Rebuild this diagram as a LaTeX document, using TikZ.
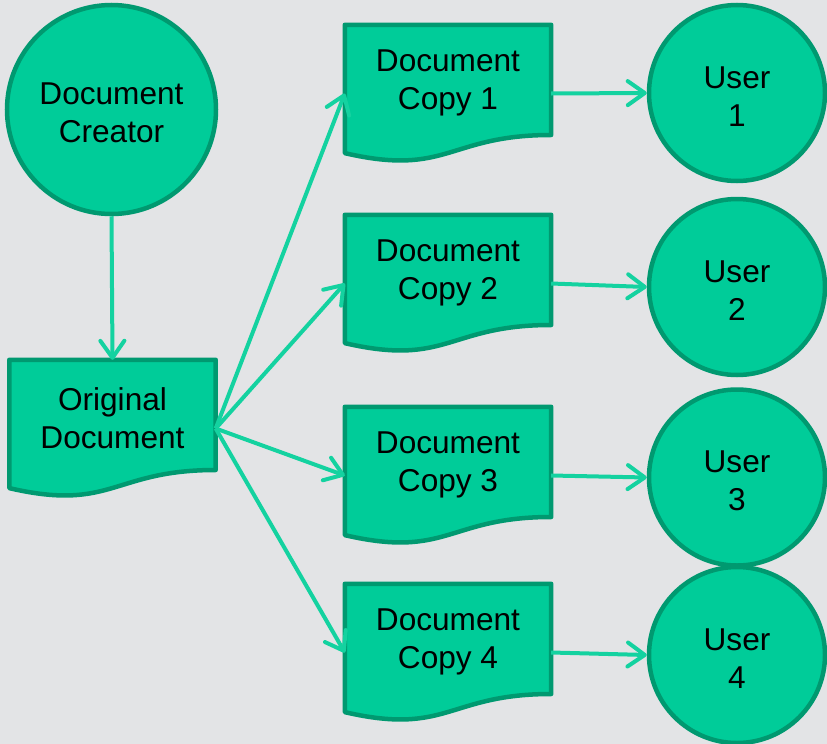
\documentclass[tikz,border=0pt]{standalone}
\usepackage{fontspec}
\setmainfont{Liberation Sans}
\usetikzlibrary{arrows.meta,calc}
\definecolor{bgc}{HTML}{E3E4E6}
\definecolor{fillc}{HTML}{00CC99}
\definecolor{edgec}{HTML}{009970}
\definecolor{arrc}{HTML}{14D2A0}
\tikzset{
  txt/.style={align=center,text=black,font=\fontsize{31.6}{38}\selectfont,inner sep=0pt},
  circnode/.style={circle,draw=edgec,fill=fillc,line width=4.5pt,inner sep=0pt,txt,
    text depth=0pt},
  docbb/.style={rectangle,draw=none,inner sep=0pt,minimum width=206pt,minimum height=137pt},
  docpath/.style={draw=edgec,fill=fillc,line width=4.5pt,line join=round},
  conn/.style={draw=arrc,line width=4pt,-{Straight Barb[length=17pt,width=24pt,round]}}
}
\newcommand\docnode[3]{%
  \node[docbb] (#1) at #2 {};
  \path[docpath] (#1.north west) -- (#1.north east) -- ($(#1.north east)!0.802!(#1.south east)$)
    .. controls ($(#1.north)!0.802!(#1.south)$) and ($(#1.north)!1.1075!(#1.south)$) ..
    ($(#1.north west)!0.934!(#1.south west)$) -- cycle;
  \node[txt,yshift=-3.5pt] (#1-t) at ($(#1.north)!0.401!(#1.south)$) {#3};
}
\newcommand\circnode[4]{%
  \node[circnode,minimum size=#3] (#1) at #2 {};
  \node[txt,yshift=-3.5pt] (#1-t) at (#1.center) {#4};
}
\begin{document}
\begin{tikzpicture}[x=1pt,y=-1pt]
\useasboundingbox (0,0) rectangle (827,744);
\fill[bgc] (0,0) rectangle (827,744);
\circnode{creator}{(111.5,109.5)}{209pt}{Document\\Creator}
\docnode{orig}{(112.5,428.5)}{Original\\Document}
\docnode{c1}{(448,93.5)}{Document\\Copy 1}
\docnode{c2}{(448,283.5)}{Document\\Copy 2}
\docnode{c3}{(448,475.5)}{Document\\Copy 3}
\docnode{c4}{(448,652.5)}{Document\\Copy 4}
\circnode{u1}{(737,93)}{176pt}{User\\1}
\circnode{u2}{(737,287)}{176pt}{User\\2}
\circnode{u3}{(737,477.5)}{176pt}{User\\3}
\circnode{u4}{(737,655)}{176pt}{User\\4}
\draw[conn] (creator.south) -- (orig.north);
\foreach \c in {c1,c2,c3,c4}{\draw[conn] (orig.east) -- (\c.west);}
\draw[conn] (c1.east) -- (u1.west);
\draw[conn] (c2.east) -- (u2.west);
\draw[conn] (c3.east) -- (u3.west);
\draw[conn] (c4.east) -- (u4.west);
\end{tikzpicture}
\end{document}
